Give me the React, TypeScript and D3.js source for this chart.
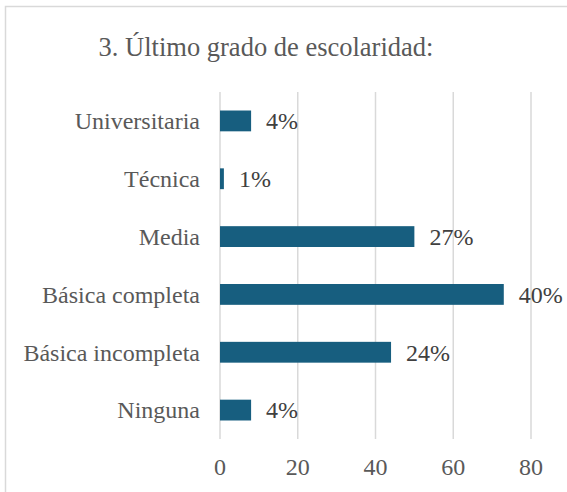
import React from "react";
import * as d3 from "d3";

const categories = ["Universitaria", "Técnica", "Media", "Básica completa", "Básica incompleta", "Ninguna"];
const values = [8, 1, 50, 73, 44, 8];
const percentLabels = ["4%", "1%", "27%", "40%", "24%", "4%"];
const ticks = [0, 20, 40, 60, 80];
const title = "3. Último grado de escolaridad:";

const W = 567;
const H = 492;
const FONT = "'Liberation Serif', 'Times New Roman', serif";

export default function App() {
  const x = d3.scaleLinear().domain([0, 80]).range([220, 531]);
  const y = d3.scaleBand<string>().domain(categories).range([92, 439]).paddingInner(0.64).paddingOuter(0.32);

  return (
    <svg width={W} height={H} style={{ position: "absolute", left: 0, top: 0 }}>
      <rect x={0} y={0} width={W} height={H} fill="#ffffff" />
      <rect x={5.5} y={6.5} width={W + 10} height={H + 10} fill="none" stroke="#d9d9d9" strokeWidth={1.5} />
      <text x={266} y={56} textAnchor="middle" fontFamily={FONT} fontSize={26.5} fill="#595959">
        {title}
      </text>
      {ticks.map((t) => (
        <g key={t}>
          <line x1={x(t)} x2={x(t)} y1={92} y2={439} stroke="#d9d9d9" strokeWidth={1.5} />
          <text x={x(t)} y={475} textAnchor="middle" fontFamily={FONT} fontSize={24} fill="#595959">
            {t}
          </text>
        </g>
      ))}
      {categories.map((c, i) => {
        const yc = (y(c) as number) + y.bandwidth() / 2;
        return (
          <g key={c}>
            <rect x={x(0)} y={y(c)} width={x(values[i]) - x(0)} height={y.bandwidth()} fill="#175E7F" />
            <text x={200} y={yc} dy="0.35em" textAnchor="end" fontFamily={FONT} fontSize={24} fill="#595959">
              {c}
            </text>
            <text x={x(values[i]) + 15} y={yc} dy="0.35em" fontFamily={FONT} fontSize={24} fill="#404040">
              {percentLabels[i]}
            </text>
          </g>
        );
      })}
    </svg>
  );
}
